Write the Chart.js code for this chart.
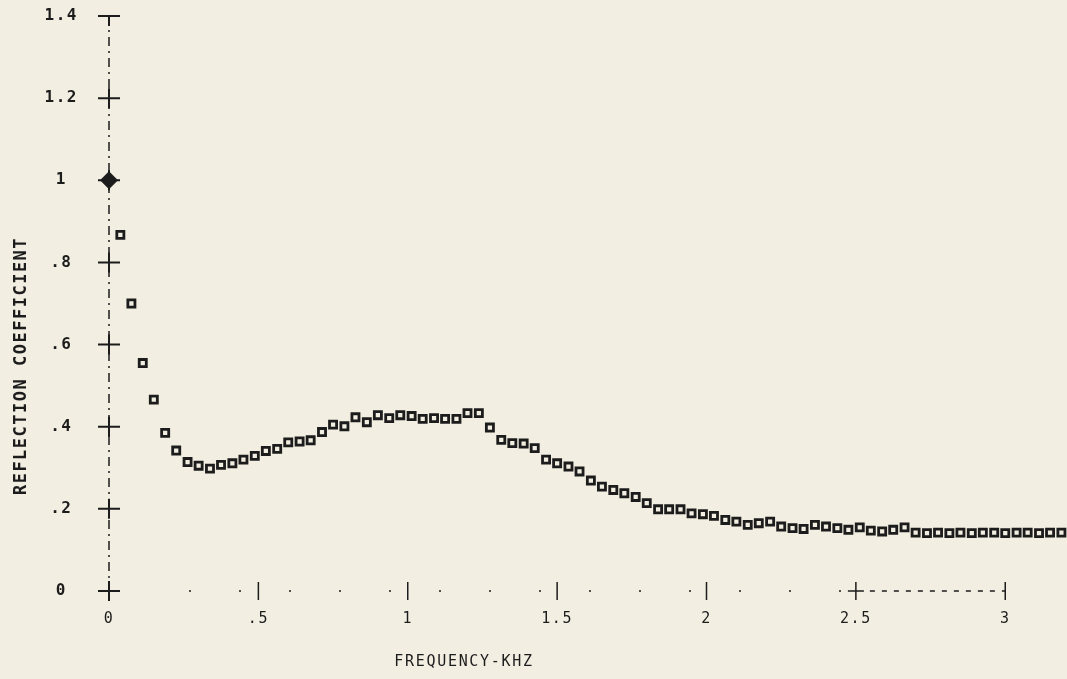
<!DOCTYPE html>
<html>
<head>
<meta charset="utf-8">
<title>Reflection coefficient vs frequency</title>
<script src="https://cdn.jsdelivr.net/npm/chart.js@4"></script>
<style>
  html, body { margin: 0; padding: 0; background: #f2eee1; }
  #wrap { width: 1067px; height: 679px; }
</style>
</head>
<body>
<div id="wrap"><canvas id="chart"></canvas></div>
<script>
// frequency (kHz) of each measured point
const frequency = [
    0, 0.038, 0.075, 0.113, 0.15, 0.188, 0.225, 0.263, 0.3, 0.338,
    0.375, 0.413, 0.45, 0.488, 0.525, 0.563, 0.6, 0.638, 0.675, 0.713,
    0.75, 0.788, 0.825, 0.863, 0.9, 0.938, 0.975, 1.013, 1.05, 1.088,
    1.125, 1.163, 1.2, 1.238, 1.275, 1.313, 1.35, 1.388, 1.425, 1.463,
    1.5, 1.538, 1.575, 1.613, 1.65, 1.688, 1.725, 1.763, 1.8, 1.838,
    1.875, 1.913, 1.95, 1.988, 2.025, 2.063, 2.1, 2.138, 2.175, 2.213,
    2.25, 2.288, 2.325, 2.363, 2.4, 2.438, 2.475, 2.513, 2.55, 2.588,
    2.625, 2.663, 2.7, 2.738, 2.775, 2.813, 2.85, 2.888, 2.925, 2.963,
    3.0, 3.038, 3.075, 3.113, 3.15, 3.188
];

// reflection coefficient
const reflection = [
    1.0, 0.867, 0.700, 0.555, 0.466, 0.385, 0.342, 0.314, 0.305, 0.298,
    0.307, 0.311, 0.320, 0.329, 0.341, 0.346, 0.362, 0.364, 0.367, 0.387,
    0.405, 0.401, 0.423, 0.411, 0.428, 0.421, 0.428, 0.426, 0.419, 0.421,
    0.419, 0.419, 0.433, 0.433, 0.398, 0.368, 0.360, 0.359, 0.348, 0.320,
    0.311, 0.303, 0.291, 0.269, 0.254, 0.246, 0.238, 0.229, 0.214, 0.199,
    0.199, 0.199, 0.189, 0.187, 0.183, 0.173, 0.169, 0.161, 0.165, 0.169,
    0.157, 0.153, 0.151, 0.161, 0.157, 0.153, 0.149, 0.155, 0.147, 0.145,
    0.149, 0.155, 0.142, 0.141, 0.142, 0.141, 0.142, 0.141, 0.142, 0.142,
    0.141, 0.142, 0.142, 0.141, 0.142, 0.142
];

const xTicks = [0, 0.5, 1, 1.5, 2, 2.5, 3];
const yTicks = [0, 0.2, 0.4, 0.6, 0.8, 1, 1.2, 1.4];
const xTitle = 'FREQUENCY-KHZ';
const yTitle = 'REFLECTION COEFFICIENT';

const ink = '#1c1c1c';

// the old plotter drops the leading zero: .5, .8 ...
function plotterLabel(v) {
    return (v > 0 && v < 1) ? String(v).replace('0.', '.') : String(v);
}

// no extra room for overhanging labels, the layout padding handles it
function noLabelPadding(s) {
    s.paddingLeft = 0;
    s.paddingRight = 0;
    s.paddingTop = 0;
    s.paddingBottom = 0;
}

// draws the plotter-style axes (dash-dot line with crosses) and the titles
const plotterAxes = {
    id: 'plotterAxes',
    beforeLayout(chart) { chart.ctx.letterSpacing = '1.5px'; },
    beforeDraw(chart) { chart.ctx.letterSpacing = '1.5px'; },
    beforeDatasetsDraw(chart) {
        const { ctx, scales: { x, y } } = chart;
        const x0 = x.getPixelForValue(0);
        const y0 = y.getPixelForValue(0);
        const topVal = yTicks[yTicks.length - 1];
        const yTop = y.getPixelForValue(topVal);
        const x25 = x.getPixelForValue(2.5);
        const x3 = x.getPixelForValue(3);

        ctx.save();
        ctx.strokeStyle = ink;

        // y axis, dash-dot
        ctx.lineWidth = 1.5;
        ctx.setLineDash([9, 5, 2, 5]);
        ctx.beginPath();
        ctx.moveTo(x0, yTop);
        ctx.lineTo(x0, y0);
        ctx.stroke();

        // x axis, barely printed dots then a dashed run
        ctx.lineWidth = 1.5;
        ctx.setLineDash([2, 48]);
        ctx.beginPath();
        ctx.moveTo(x0 + 80, y0);
        ctx.lineTo(x25, y0);
        ctx.stroke();
        ctx.setLineDash([5, 7]);
        ctx.beginPath();
        ctx.moveTo(x25 + 14, y0);
        ctx.lineTo(x3, y0);
        ctx.stroke();

        ctx.setLineDash([]);
        ctx.lineWidth = 2;
        yTicks.forEach(v => {
            const py = y.getPixelForValue(v);
            ctx.beginPath();
            ctx.moveTo(x0 - 11, py);
            ctx.lineTo(x0 + 11, py);
            ctx.moveTo(x0, v === topVal ? py : py - 10);
            ctx.lineTo(x0, py + 10);
            ctx.stroke();
        });

        ctx.lineWidth = 1.5;
        xTicks.forEach(v => {
            if (v === 0) return;
            const px = x.getPixelForValue(v);
            ctx.beginPath();
            ctx.moveTo(px, y0 - 9);
            ctx.lineTo(px, y0 + 9);
            if (v === 2.5) {
                ctx.moveTo(px - 8, y0);
                ctx.lineTo(px + 8, y0);
            }
            ctx.stroke();
        });
        ctx.restore();
    },
    afterDraw(chart) {
        const { ctx } = chart;
        ctx.save();
        ctx.fillStyle = ink;
        ctx.textAlign = 'center';
        ctx.textBaseline = 'middle';

        ctx.letterSpacing = '1.7px';
        ctx.font = '15px "DejaVu Sans Mono"';
        ctx.fillText(xTitle, 464, 662);

        ctx.translate(22, 366);
        ctx.rotate(-Math.PI / 2);
        ctx.letterSpacing = '1.5px';
        ctx.font = 'bold 17px "DejaVu Sans Mono"';
        ctx.fillText(yTitle, 0, 0);
        ctx.restore();
    }
};

new Chart(document.getElementById('chart'), {
    type: 'scatter',
    data: {
        datasets: [{
            label: 'Reflection coefficient',
            data: frequency.map((f, i) => ({ x: f, y: reflection[i] })),
            showLine: false,
            clip: false,
            pointStyle: ctx => ctx.dataIndex === 0 ? 'rectRot' : 'rect',
            pointRadius: ctx => ctx.dataIndex === 0 ? 7 : 5,
            pointBorderWidth: 2.8,
            pointBorderColor: ink,
            pointBackgroundColor: ctx => ctx.dataIndex === 0 ? ink : 'rgba(0,0,0,0)'
        }]
    },
    options: {
        responsive: true,
        maintainAspectRatio: false,
        animation: false,
        layout: { autoPadding: false, padding: { top: 16, right: 2, left: 0, bottom: 0 } },
        scales: {
            x: {
                type: 'linear',
                min: 0,
                max: 3.2,
                afterBuildTicks: s => { s.ticks = xTicks.map(v => ({ value: v })); },
                afterFit: s => { s.height = 88; noLabelPadding(s); },
                grid: { display: false, drawTicks: false },
                border: { display: false },
                ticks: {
                    padding: 19,
                    color: ink,
                    maxRotation: 0,
                    autoSkip: false,
                    font: { family: 'DejaVu Sans Mono', size: 15 },
                    callback: v => plotterLabel(v)
                }
            },
            y: {
                type: 'linear',
                min: 0,
                max: 1.4,
                afterBuildTicks: s => { s.ticks = yTicks.map(v => ({ value: v })); },
                afterFit: s => { s.width = 109; noLabelPadding(s); },
                grid: { display: false, drawTicks: false },
                border: { display: false },
                ticks: {
                    padding: 31,
                    crossAlign: 'center',
                    color: ink,
                    font: { family: 'DejaVu Sans Mono', size: 16, weight: 'bold' },
                    callback: v => plotterLabel(v)
                }
            }
        },
        plugins: {
            legend: { display: false },
            tooltip: { enabled: false }
        }
    },
    plugins: [plotterAxes]
});
</script>
</body>
</html>
